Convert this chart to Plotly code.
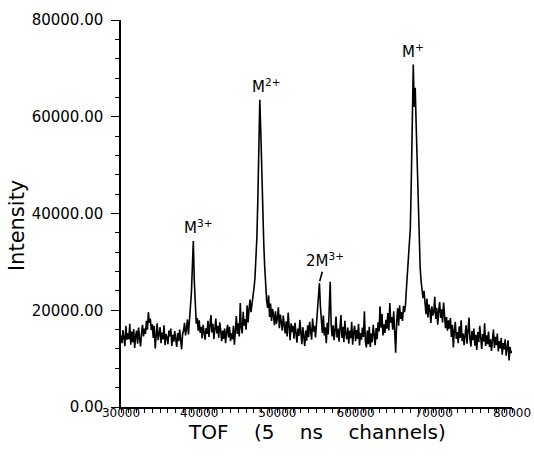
import plotly.graph_objects as go

# TOF spectrum, sampled every 125 channels from 30000 to 80000
channel_start = 30000
channel_step = 125

# intensity values in thousands of counts
intensity_k = [
    14.8, 13.2, 15.9, 14.1, 12.6, 16.8, 13.9, 15.2,   # 30000
    14.0, 17.2, 12.9, 15.6, 13.4, 16.1, 12.2, 14.7,   # 31000
    15.8, 13.1, 16.4, 14.2, 12.5, 15.3, 17.0, 14.6,   # 32000
    16.2, 15.1, 17.8, 16.0, 19.6, 17.4, 18.3, 15.9,   # 33000
    17.1, 14.3, 16.8, 12.1, 15.7, 17.3, 13.8, 15.0,   # 34000
    16.5, 13.2, 15.4, 14.0, 16.9, 12.8, 15.1, 14.4,   # 35000
    13.0, 15.8, 14.6, 16.2, 12.6, 14.9, 13.5, 15.7,   # 36000
    14.1, 12.4, 15.3, 13.6, 16.0, 14.2, 11.9, 15.0,   # 37000
    15.8, 17.4, 14.8, 16.2, 18.1, 15.0, 17.6, 19.8,   # 38000
    23.5, 29.0, 34.3, 26.0, 19.5, 17.2, 18.4, 15.8,   # 39000
    17.9, 15.3, 16.6, 14.2, 17.0, 15.6, 13.9, 16.3,   # 40000
    15.1, 17.8, 14.5, 16.9, 19.0, 15.4, 17.2, 14.0,   # 41000
    16.4, 18.3, 15.2, 16.8, 14.3, 17.5, 15.9, 13.6,   # 42000
    15.8, 14.1, 16.2, 13.2, 15.5, 17.0, 14.4, 16.6,   # 43000
    13.6, 15.2, 14.0, 16.8, 12.9, 15.6, 18.8, 15.1,   # 44000
    17.3, 14.6, 21.5, 16.4, 15.2, 19.7, 16.8, 18.2,   # 45000
    16.0, 21.0, 17.5, 20.2, 22.2, 19.6, 21.8, 23.0,   # 46000
    24.5, 26.5, 30.0, 35.0, 43.0, 53.0, 63.5, 57.0,   # 47000
    48.0, 40.0, 34.0, 29.0, 25.0, 22.0, 20.5, 23.1,   # 48000
    18.6, 21.4, 17.8, 20.3, 19.0, 16.9, 19.8, 17.2,   # 49000
    18.4, 20.6, 16.3, 19.1, 17.5, 15.8, 18.9, 16.6,   # 50000
    15.2, 17.7, 14.6, 19.5, 16.0, 13.8, 17.3, 15.5,   # 51000
    16.8, 14.1, 17.4, 15.0, 13.3, 16.2, 14.7, 18.0,   # 52000
    15.3, 13.0, 16.5, 14.2, 12.6, 15.8, 13.7, 16.9,   # 53000
    14.5, 17.6, 15.1, 13.9, 18.3, 15.6, 16.8, 14.4,   # 54000
    17.2, 19.5, 22.0, 25.6, 20.8, 17.6, 15.3, 18.9,   # 55000
    14.8, 16.5, 13.2, 17.4, 15.0, 20.2, 25.9, 17.0,   # 56000
    14.6, 16.9, 13.8, 15.9, 18.7, 14.4, 16.2, 13.5,   # 57000
    15.7, 19.0, 14.3, 16.6, 13.4, 17.8, 15.2, 14.0,   # 58000
    16.4, 13.1, 15.8, 14.2, 17.6, 12.9, 15.5, 16.8,   # 59000
    13.6, 15.9, 14.1, 17.2, 12.7, 15.3, 13.9, 16.4,   # 60000
    14.5, 19.8, 13.6, 12.3, 15.8, 13.0, 16.6, 12.4,   # 61000
    15.2, 13.4, 17.0, 14.6, 12.8, 16.3, 14.0, 17.5,   # 62000
    15.6, 20.8, 16.4, 19.2, 14.8, 17.1, 15.3, 18.0,   # 63000
    16.2, 19.4, 15.8, 21.5, 17.4, 18.6, 16.0, 19.8,   # 64000
    14.5, 11.2, 17.6, 20.4, 16.8, 21.0, 18.2, 19.6,   # 65000
    17.8, 20.9, 19.6, 21.0, 24.5, 27.5, 30.5, 33.0,   # 66000
    37.0, 47.0, 58.0, 70.8, 62.0, 66.0, 58.0, 50.0,   # 67000
    40.0, 34.0, 29.0, 26.0, 23.5, 22.5, 24.0, 21.0,   # 68000
    19.2, 22.4, 18.5, 21.2, 20.0, 17.4, 20.8, 18.9,   # 69000
    19.6, 22.8, 18.2, 20.5, 17.0, 19.9, 21.7, 18.4,   # 70000
    20.2, 17.5, 21.6, 19.0, 16.3, 18.6, 15.8, 17.9,   # 71000
    16.2, 18.4, 14.5, 17.0, 12.3, 15.8, 17.6, 14.1,   # 72000
    15.5, 13.2, 16.7, 14.3, 17.9, 13.6, 15.2, 12.8,   # 73000
    14.6, 16.9, 13.1, 15.4, 18.5, 14.0, 12.5, 15.7,   # 74000
    13.8, 16.2, 12.7, 14.9, 11.8, 15.5, 13.4, 16.8,   # 75000
    14.2, 12.0, 15.1, 13.5, 17.3, 12.6, 14.8, 13.0,   # 76000
    15.6, 12.4, 14.0, 11.6, 13.9, 16.0, 12.2, 14.5,   # 77000
    12.8, 15.2, 11.5, 13.6, 12.1, 14.3, 10.8, 13.2,   # 78000
    11.9, 14.0, 10.6, 12.7, 13.8, 9.6, 12.4, 11.2,    # 79000
    11.5,                                             # 80000
]

intensity = [v * 1000 for v in intensity_k]
channels = [channel_start + channel_step * i for i in range(len(intensity))]

# peak labels: (channel, intensity, text)
peak_labels = [
    (39250, 34300, "M<sup>3+</sup>"),
    (47750, 63500, "M<sup>2+</sup>"),
    (67375, 70800, "M<sup>+</sup>"),
]
dimer_label = (55375, 25800, "2M<sup>3+</sup>")

sp = "\u00a0" * 4
x_title = "TOF" + sp + "(5" + sp + "ns" + sp + "channels)"
y_title = "Intensity"

fig = go.Figure()
fig.add_trace(go.Scatter(
    x=channels, y=intensity, mode="lines",
    line=dict(color="black", width=1.6),
    hoverinfo="skip",
))

label_font = dict(family="DejaVu Sans", size=15, color="black")
for (cx, cy, txt), xs in zip(peak_labels, [5, 6, 0]):
    fig.add_annotation(
        x=cx, y=cy, text=txt, showarrow=False,
        xanchor="center", yanchor="bottom", xshift=xs, yshift=2,
        font=label_font,
    )

fig.add_annotation(
    x=dimer_label[0], y=dimer_label[1], text=dimer_label[2],
    showarrow=True, arrowhead=0, arrowwidth=1.6, arrowcolor="black",
    ax=6, ay=-22, standoff=1,
    font=label_font,
)

fig.add_annotation(
    text=y_title, textangle=-90, showarrow=False,
    xref="paper", yref="paper", x=-0.266, y=0.47,
    xanchor="center", yanchor="middle",
    font=dict(family="DejaVu Sans", size=21, color="black"),
)
fig.add_annotation(
    text=x_title, showarrow=False,
    xref="paper", yref="paper", x=0.5, y=-0.0646,
    xanchor="center", yanchor="middle",
    font=dict(family="DejaVu Sans", size=20, color="black"),
)

fig.update_layout(
    width=534, height=456,
    margin=dict(l=121, r=22, t=20, b=49),
    plot_bgcolor="white", paper_bgcolor="white",
    showlegend=False,
    font=dict(family="DejaVu Sans", color="black"),
)

fig.update_xaxes(
    range=[30000, 80000], tick0=30000, dtick=10000, tickformat="d",
    showline=True, linecolor="black", linewidth=1.5,
    showgrid=False, zeroline=False, automargin=False,
    ticks="outside", ticklen=4, tickwidth=1.2, tickcolor="black",
    minor=dict(dtick=1000, ticks="outside", ticklen=4, tickwidth=1, tickcolor="black"),
    tickfont=dict(size=12), ticklabelstandoff=-10,
)

fig.update_yaxes(
    range=[0, 80000], tick0=0, dtick=20000, tickformat=".2f",
    showline=True, linecolor="black", linewidth=1.5,
    showgrid=False, zeroline=False, automargin=False,
    ticks="outside", ticklen=8, tickwidth=1.2, tickcolor="black",
    minor=dict(dtick=4000, ticks="outside", ticklen=4, tickwidth=1, tickcolor="black"),
    tickfont=dict(size=15), ticklabelstandoff=5,
)

# remove the default page margin so the figure fills the 534x456 window
fig.write_html(
    "out.html",
    config={"displayModeBar": False},
    post_script="document.body.style.margin='0';",
)
